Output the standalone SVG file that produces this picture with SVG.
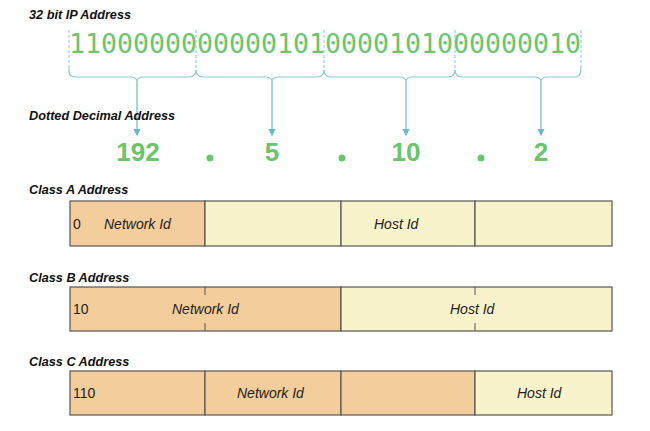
<svg xmlns="http://www.w3.org/2000/svg" width="650" height="431" viewBox="0 0 650 431">
<defs>
<style>
.lbl{font:italic bold 12.7px "Liberation Sans",sans-serif;fill:#111}
.bits{font:26px "DejaVu Sans Mono",monospace;fill:#6cc46c}
.dec{font:bold 26px "Liberation Sans",sans-serif;fill:#6cc46c}
.dash{stroke:#8cc8d8;stroke-dasharray:3,2;stroke-width:1}
.br{fill:none;stroke:#8cc8d8;stroke-width:1.2}
.ar{stroke:#6cb8cc;stroke-width:1.2;marker-end:url(#ah)}
.net{fill:#f4cd9c;stroke:#555;stroke-width:1.2}
.host{fill:#f8f3cb;stroke:#555;stroke-width:1.2}
.t{font:italic 14px "Liberation Sans",sans-serif;fill:#222}
.n{font:14px "Liberation Sans",sans-serif;fill:#222}
</style>
<marker id="ah" markerWidth="6" markerHeight="6" refX="5" refY="3" orient="auto"><path d="M0,0 L6,3 L0,6 z" fill="#6cb8cc"/></marker>
</defs>
<text class="lbl" x="29" y="19">32 bit IP Address</text>
<text class="bits" x="69" y="53" textLength="512" lengthAdjust="spacingAndGlyphs">11000000000001010000101000000010</text>
<g id="connectors">
<line class="dash" x1="69" y1="30" x2="69" y2="70"/>
<line class="dash" x1="196" y1="30" x2="196" y2="70"/>
<line class="dash" x1="324" y1="30" x2="324" y2="70"/>
<line class="dash" x1="455" y1="30" x2="455" y2="70"/>
<line class="dash" x1="581" y1="30" x2="581" y2="70"/>
<path class="br" d="M69,68 L69,72 Q69,76 74,77 L132,77 Q137,78 137,82 Q137,78 142,77 L190,77 Q196,76 196,70"/>
<path class="br" d="M196,70 Q196,76 202,77 L267,77 Q272,78 272,82 Q272,78 277,77 L318,77 Q324,76 324,70"/>
<path class="br" d="M324,70 Q324,76 330,77 L401,77 Q406,78 406,82 Q406,78 411,77 L449,77 Q455,76 455,70"/>
<path class="br" d="M455,70 Q455,76 461,77 L536,77 Q541,78 541,82 Q541,78 546,77 L576,77 Q581,76 581,68"/>
<line class="ar" x1="137" y1="82" x2="137" y2="135"/>
<line class="ar" x1="272" y1="82" x2="272" y2="135"/>
<line class="ar" x1="406" y1="82" x2="406" y2="135"/>
<line class="ar" x1="541" y1="82" x2="541" y2="135"/>
</g>
<text class="lbl" x="29" y="120">Dotted Decimal Address</text>
<g id="decimal" text-anchor="middle">
<text class="dec" x="138" y="161">192</text>
<text class="dec" x="272" y="161">5</text>
<text class="dec" x="406" y="161">10</text>
<text class="dec" x="541" y="161">2</text>
<circle cx="210" cy="158" r="3.5" fill="#6cc46c"/>
<circle cx="342" cy="158" r="3.5" fill="#6cc46c"/>
<circle cx="481" cy="158" r="3.5" fill="#6cc46c"/>
</g>
<text class="lbl" x="29" y="194">Class A Address</text>
<g id="classA">
<rect class="net" x="70" y="201" width="135" height="45"/>
<rect class="host" x="205" y="201" width="136" height="45"/>
<rect class="host" x="341" y="201" width="134" height="45"/>
<rect class="host" x="475" y="201" width="137" height="45"/>
<text class="n" x="73" y="229">0</text>
<text class="t" x="104" y="229">Network Id</text>
<text class="t" x="374" y="229">Host Id</text>
</g>
<text class="lbl" x="29" y="282">Class B Address</text>
<g id="classB">
<rect class="net" x="70" y="287" width="271" height="44"/>
<rect class="host" x="341" y="287" width="271" height="44"/>
<line x1="205" y1="287" x2="205" y2="295" stroke="#555"/>
<line x1="205" y1="323" x2="205" y2="331" stroke="#555"/>
<line x1="475" y1="287" x2="475" y2="295" stroke="#555"/>
<line x1="475" y1="323" x2="475" y2="331" stroke="#555"/>
<text class="n" x="73" y="314">10</text>
<text class="t" x="172" y="314">Network Id</text>
<text class="t" x="450" y="314">Host Id</text>
</g>
<text class="lbl" x="29" y="366">Class C Address</text>
<g id="classC">
<rect class="net" x="70" y="371" width="135" height="44"/>
<rect class="net" x="205" y="371" width="136" height="44"/>
<rect class="net" x="341" y="371" width="134" height="44"/>
<rect class="host" x="475" y="371" width="137" height="44"/>
<text class="n" x="73" y="398">110</text>
<text class="t" x="237" y="398">Network Id</text>
<text class="t" x="517" y="398">Host Id</text>
</g>
</svg>
